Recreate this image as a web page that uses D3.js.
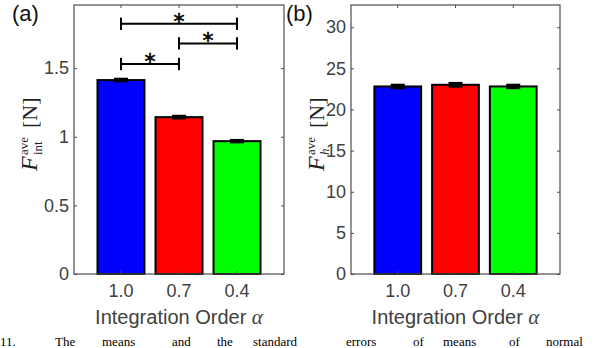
<!DOCTYPE html>
<html><head><meta charset="utf-8">
<script src="https://cdn.jsdelivr.net/npm/d3@7"></script>
<style>body{margin:0;background:#fff}svg{display:block}</style>
</head><body>
<svg id="c" width="596" height="348"></svg>
<script>
const categories = ["1.0", "0.7", "0.4"];
const colors = ["#0000ff", "#ff0000", "#00ff00"];
const valuesA = [1.413, 1.143, 0.968];
const errorsA = [0.008, 0.008, 0.007];
const valuesB = [22.8, 23.0, 22.8];
const errorsB = [0.18, 0.2, 0.18];
const ticksA = [0, 0.5, 1, 1.5];
const tickLabelsA = ["0", "0.5", "1", "1.5"];
const ticksB = [0, 5, 10, 15, 20, 25, 30];
const tickLabelsB = ["0", "5", "10", "15", "20", "25", "30"];
const sigPairs = [[0, 2], [1, 2], [0, 1]];
const sigHeights = [1.823, 1.68, 1.53];
const captionWords = ["11.", "The", "means", "and", "the", "standard", "errors", "of", "means", "of", "normal"];

const svg = d3.select("#c");
const axisColor = "#4d4d4d", textColor = "#404040";
const sans = "'Liberation Sans', Arial, sans-serif";
const serif = "'Liberation Serif', 'Times New Roman', serif";

function panel(opt) {
  const {left, right, top, bottom, ymax, values, errors, ticks, tickLabels} = opt;
  const x = d3.scaleBand().domain(categories).range([left, right]).paddingInner(0.19).paddingOuter(0.405);
  const y = d3.scaleLinear().domain([0, ymax]).range([bottom, top]);
  const g = svg.append("g");
  g.selectAll("rect.bar").data(values).join("rect")
    .attr("x", (d, i) => x(categories[i]))
    .attr("y", d => y(d))
    .attr("width", x.bandwidth())
    .attr("height", d => y(0) - y(d))
    .attr("fill", (d, i) => colors[i])
    .attr("stroke", "#000").attr("stroke-width", 2);
  const cw = 7;
  values.forEach((v, i) => {
    const cx = x(categories[i]) + x.bandwidth() / 2;
    const e = errors[i];
    g.append("line").attr("x1", cx).attr("x2", cx).attr("y1", y(v - e)).attr("y2", y(v + e)).attr("stroke", "#000").attr("stroke-width", 2);
    [v - e, v + e].forEach(t => g.append("line").attr("x1", cx - cw).attr("x2", cx + cw).attr("y1", y(t)).attr("y2", y(t)).attr("stroke", "#000").attr("stroke-width", 2.5));
  });
  const fmt = (d) => tickLabels[ticks.indexOf(d)];
  const yl = g.append("g").attr("transform", `translate(${left},0)`)
    .call(d3.axisLeft(y).tickValues(ticks).tickFormat(fmt).tickSizeInner(-3).tickSizeOuter(0).tickPadding(5));
  const yr = g.append("g").attr("transform", `translate(${right},0)`)
    .call(d3.axisRight(y).tickValues(ticks).tickFormat("").tickSizeInner(-3).tickSizeOuter(0));
  const xb = g.append("g").attr("transform", `translate(0,${bottom})`)
    .call(d3.axisBottom(x).tickSizeInner(-3).tickSizeOuter(0).tickPadding(10));
  const xt = g.append("g").attr("transform", `translate(0,${top})`)
    .call(d3.axisTop(x).tickFormat("").tickSizeInner(-3).tickSizeOuter(0));
  [yl, yr, xb, xt].forEach(a => {
    a.select(".domain").remove();
    a.selectAll("line").attr("stroke", axisColor);
    a.selectAll("text").attr("fill", textColor).style("font-family", sans).style("font-size", "18px");
  });
  g.append("rect").attr("x", left).attr("y", top).attr("width", right - left).attr("height", bottom - top)
    .attr("fill", "none").attr("stroke", axisColor).attr("stroke-width", 1.2);
  const xlab = g.append("text").attr("x", (left + right) / 2).attr("y", bottom + 50).attr("text-anchor", "middle")
    .attr("fill", textColor).style("font-family", sans).style("font-size", "20px");
  xlab.append("tspan").text("Integration Order ");
  xlab.append("tspan").text("α").style("font-family", serif).style("font-style", "italic").style("font-size", "21px");
  return {x, y, g};
}

const A = panel({left: 74, right: 284, top: 5, bottom: 274, ymax: 1.96, values: valuesA, errors: errorsA, ticks: ticksA, tickLabels: tickLabelsA});
const B = panel({left: 351, right: 560, top: 5, bottom: 274, ymax: 32.7, values: valuesB, errors: errorsB, ticks: ticksB, tickLabels: tickLabelsB});

const tickH = 0.045;
sigPairs.forEach((p, k) => {
  const x1 = A.x(categories[p[0]]) + A.x.bandwidth() / 2;
  const x2 = A.x(categories[p[1]]) + A.x.bandwidth() / 2;
  const yy = A.y(sigHeights[k]);
  const g = A.g.append("g").attr("stroke", "#000").attr("stroke-width", 2);
  g.append("line").attr("x1", x1).attr("x2", x2).attr("y1", yy).attr("y2", yy);
  [x1, x2].forEach(xx => g.append("line").attr("x1", xx).attr("x2", xx).attr("y1", A.y(sigHeights[k] + tickH)).attr("y2", A.y(sigHeights[k] - tickH)));
  A.g.append("text").attr("x", (x1 + x2) / 2).attr("y", yy + 5).attr("text-anchor", "middle")
    .style("font-family", "'DejaVu Sans', sans-serif").style("font-size", "22px")
    .attr("fill", "#000").attr("stroke", "#000").attr("stroke-width", 0.6).text("*");
});

function ylabel(cx, cy, sub) {
  const g = svg.append("g").attr("transform", `translate(${cx},${cy}) rotate(-90)`);
  g.append("text").attr("x", -40).attr("y", 0).style("font-family", serif).style("font-style", "italic").style("font-size", "24px").attr("fill", "#222").text("F");
  g.append("text").attr("x", -24).attr("y", -9).style("font-family", serif).style("font-size", "13px").attr("fill", "#222").text("ave");
  g.append("text").attr("x", -24).attr("y", 5).style("font-family", serif).style("font-size", "13px").style("font-style", sub === "h" ? "italic" : "normal").attr("fill", "#222").text(sub);
  g.append("text").attr("x", 3).attr("y", 0).style("font-family", serif).style("font-size", "22px").attr("fill", "#222").text("[N]");
}
ylabel(37, 131, "int");
ylabel(324, 131, "h");

svg.append("text").attr("x", 12).attr("y", 21).style("font-family", sans).style("font-size", "22px").attr("fill", "#111").text("(a)");
svg.append("text").attr("x", 286).attr("y", 21).style("font-family", sans).style("font-size", "22px").attr("fill", "#111").text("(b)");

// caption fragment at the bottom edge
const capX = [0, 55, 102, 172, 217, 253, 346, 413, 443, 509, 546];
svg.append("g").selectAll("text").data(captionWords).join("text")
  .attr("x", (d, i) => capX[i]).attr("y", 346)
  .style("font-family", serif).style("font-size", "13px").attr("fill", "#000").text(d => d);
</script>
</body></html>
